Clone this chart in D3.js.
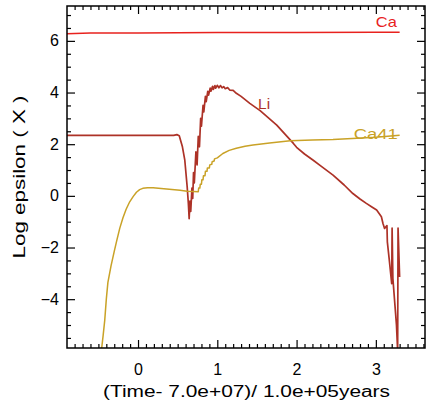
<!DOCTYPE html>
<html><head><meta charset="utf-8">
<script src="https://cdn.jsdelivr.net/npm/d3@7"></script>
<style>
body{margin:0;background:#fff;}
svg{display:block;}
text{font-family:"Liberation Sans",Arial,sans-serif;}
</style></head>
<body>
<script>
// ---- data ----
const caX = [-0.9, -0.6, 0.0, 0.5, 1.0, 2.0, 3.0, 3.3];
const caY = [6.28, 6.30, 6.30, 6.31, 6.32, 6.32, 6.33, 6.33];

const liX = [-0.9, 0.45, 0.49, 0.52, 0.56, 0.59, 0.62, 0.635, 0.645, 0.655, 0.665, 0.68, 0.69, 0.70, 0.71, 0.73, 0.745, 0.76, 0.775, 0.79, 0.80, 0.82, 0.83, 0.85, 0.86, 0.88, 0.89, 0.91, 0.92, 0.94, 0.95, 0.97, 0.98, 1.00, 1.02, 1.04, 1.06, 1.08, 1.10, 1.13, 1.16, 1.20, 1.24, 1.30, 1.41, 1.54, 1.75, 1.96, 2.0, 2.1, 2.21, 2.3, 2.46, 2.6, 2.71, 2.8, 2.88, 2.95, 3.01, 3.07, 3.09, 3.11, 3.14, 3.145, 3.17, 3.20, 3.205, 3.215, 3.24, 3.26, 3.275, 3.28, 3.30];
const liY = [2.34, 2.34, 2.37, 2.33, 1.9, 1.38, 0.35, -0.3, -0.88, -0.2, -0.6, 0.3, -0.1, 0.9, 0.5, 1.7, 1.2, 2.3, 1.9, 3.0, 2.7, 3.5, 3.25, 3.85, 3.65, 4.05, 3.9, 4.17, 4.05, 4.24, 4.12, 4.27, 4.17, 4.28, 4.18, 4.27, 4.18, 4.23, 4.15, 4.19, 4.09, 4.08, 3.97, 3.85, 3.58, 3.30, 2.74, 2.03, 1.88, 1.62, 1.38, 1.17, 0.8, 0.42, 0.09, -0.12, -0.29, -0.43, -0.55, -0.81, -1.07, -1.26, -1.15, -1.78, -2.5, -3.4, -1.25, -3.2, -4.2, -5.0, -6.0, -1.25, -3.14];

const ca41X = [-0.47, -0.44, -0.42, -0.40, -0.38, -0.34, -0.30, -0.27, -0.23, -0.19, -0.15, -0.105, -0.06, -0.02, 0.02, 0.06, 0.12, 0.19, 0.36, 0.53, 0.62, 0.70, 0.76, 0.765, 0.78, 0.785, 0.80, 0.805, 0.82, 0.825, 0.845, 0.85, 0.87, 0.875, 0.90, 0.905, 0.93, 0.935, 0.96, 0.965, 1.00, 1.07, 1.15, 1.24, 1.35, 1.45, 1.66, 1.92, 2.2, 2.46, 3.0, 3.30];
const ca41Y = [-6.2, -5.4, -4.82, -4.0, -3.35, -2.7, -2.15, -1.75, -1.25, -0.85, -0.52, -0.23, -0.02, 0.14, 0.24, 0.29, 0.31, 0.31, 0.27, 0.22, 0.18, 0.17, 0.16, 0.30, 0.30, 0.45, 0.45, 0.62, 0.62, 0.78, 0.78, 0.95, 0.95, 1.08, 1.08, 1.2, 1.22, 1.32, 1.35, 1.43, 1.47, 1.64, 1.76, 1.84, 1.92, 1.97, 2.05, 2.13, 2.16, 2.18, 2.27, 2.35];

const xMajor = [0, 1, 2, 3];
const yMajor = [-4, -2, 0, 2, 4, 6];
const xLabel = "(Time- 7.0e+07)/ 1.0e+05years";
const yLabel = "Log epsilon ( X )";
const seriesNames = ["Ca", "Li", "Ca41"];

// ---- layout ----
const W = 427, H = 405;
const L = 67, R = 425, T = 6, B = 348;
const x = d3.scaleLinear().domain([-0.896, 3.62]).range([L, R]);
const y = d3.scaleLinear().domain([-5.89, 7.35]).range([B, T]);

const svg = d3.select("body").append("svg").attr("width", W).attr("height", H);
svg.append("clipPath").attr("id", "c").append("rect")
  .attr("x", L).attr("y", T).attr("width", R - L).attr("height", B - T);

const xMinor = d3.range(-8, 37).map(i => i / 10).filter(v => !xMajor.includes(v));
const yMinor = d3.range(-11, 15).map(i => i / 2).filter(v => !yMajor.includes(v));

function axes(){
  const g = svg.append("g");
  g.append("g").attr("transform", `translate(0,${B})`)
    .call(d3.axisBottom(x).tickValues(xMajor).tickSize(-8).tickPadding(16).tickFormat(d3.format("d")));
  g.append("g").attr("transform", `translate(0,${B})`)
    .call(d3.axisBottom(x).tickValues(xMinor).tickSize(-4).tickFormat(""));
  g.append("g").attr("transform", `translate(0,${T})`)
    .call(d3.axisTop(x).tickValues(xMajor).tickSize(-8).tickFormat(""));
  g.append("g").attr("transform", `translate(0,${T})`)
    .call(d3.axisTop(x).tickValues(xMinor).tickSize(-4).tickFormat(""));
  g.append("g").attr("transform", `translate(${L},0)`)
    .call(d3.axisLeft(y).tickValues(yMajor).tickSize(-8).tickPadding(8).tickFormat(d => d < 0 ? "\u2212" + Math.abs(d) : d));
  g.append("g").attr("transform", `translate(${L},0)`)
    .call(d3.axisLeft(y).tickValues(yMinor).tickSize(-4).tickFormat(""));
  g.append("g").attr("transform", `translate(${R},0)`)
    .call(d3.axisRight(y).tickValues(yMajor).tickSize(-8).tickFormat(""));
  g.append("g").attr("transform", `translate(${R},0)`)
    .call(d3.axisRight(y).tickValues(yMinor).tickSize(-4).tickFormat(""));
  g.selectAll(".domain").remove();
  g.selectAll(".tick line").attr("stroke", "#000").attr("stroke-width", 1.2);
  g.selectAll(".tick text").attr("fill", "#000").style("font-size", "16px");
  svg.append("rect").attr("x", L).attr("y", T).attr("width", R - L).attr("height", B - T)
    .attr("fill", "none").attr("stroke", "#000").attr("stroke-width", 1.5);
}

const line = d3.line().x(d => x(d[0])).y(d => y(d[1]));
const plot = svg.append("g").attr("clip-path", "url(#c)");
const series = [
  {name: seriesNames[0], xs: caX, ys: caY, color: "#e8221e", w: 1.5},
  {name: seriesNames[1], xs: liX, ys: liY, color: "#ad3227", w: 1.7},
  {name: seriesNames[2], xs: ca41X, ys: ca41Y, color: "#c9a227", w: 1.5}
];
series.forEach(s => {
  plot.append("path").datum(s.xs.map((v, i) => [v, s.ys[i]]))
    .attr("d", line).attr("fill", "none").attr("stroke", s.color)
    .attr("stroke-width", s.w).attr("stroke-linejoin", "round");
});

axes();

const lab = [
  {t: seriesNames[0], px: 3.0, py: 6.55, w: 21, c: series[0].color},
  {t: seriesNames[1], px: 1.515, py: 3.35, w: 12, c: series[1].color},
  {t: seriesNames[2], px: 2.72, py: 2.2, w: 44, c: series[2].color}
];
lab.forEach(l => {
  svg.append("text").attr("x", x(l.px)).attr("y", y(l.py)).text(l.t)
    .attr("fill", l.c).style("font-size", "15px")
    .attr("textLength", l.w).attr("lengthAdjust", "spacingAndGlyphs");
});

svg.append("text").attr("x", (103 + 390) / 2).attr("y", 397).attr("text-anchor", "middle")
  .style("font-size", "16px").attr("textLength", 287).attr("lengthAdjust", "spacingAndGlyphs").text(xLabel);
svg.append("text").attr("transform", `translate(25,${(T + B) / 2}) rotate(-90)`)
  .attr("text-anchor", "middle").style("font-size", "16px")
  .attr("textLength", 163).attr("lengthAdjust", "spacingAndGlyphs").text(yLabel);
</script>
</body></html>
